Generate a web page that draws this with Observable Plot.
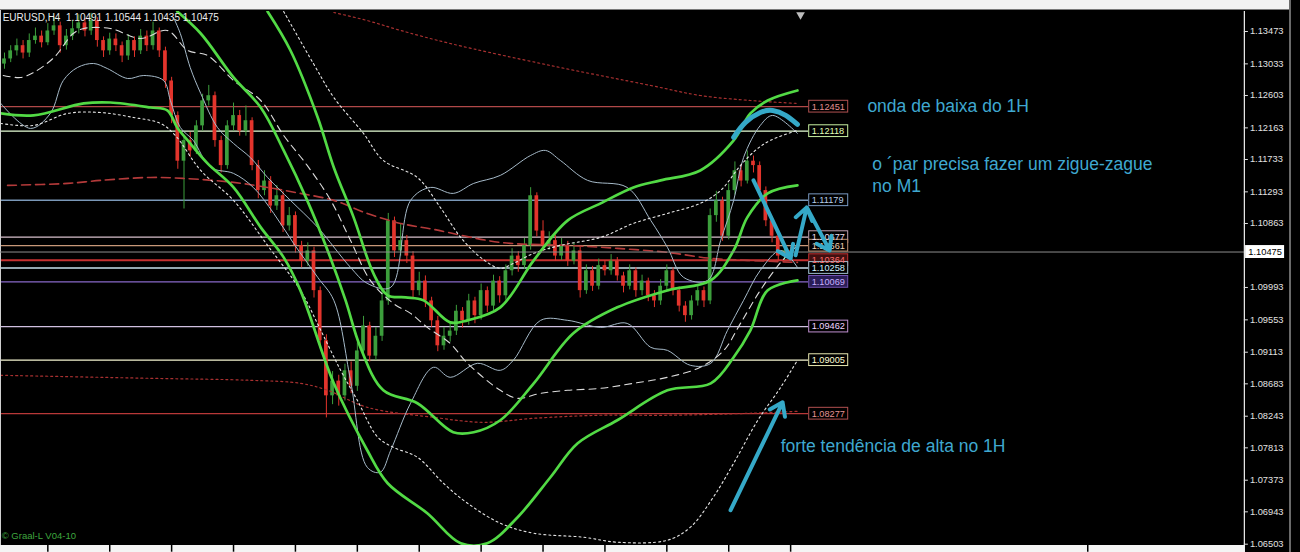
<!DOCTYPE html>
<html><head><meta charset="utf-8">
<script src="https://cdn.jsdelivr.net/npm/d3@7"></script>
<script src="https://cdn.jsdelivr.net/npm/@observablehq/plot@0.6"></script>
<style>
html,body{margin:0;padding:0;background:#000;}
#wrap{position:relative;width:1300px;height:552px;overflow:hidden;background:#000;}
.band{position:absolute;}
#wrap svg{position:absolute;left:0;top:0;}
</style></head><body>
<div id="wrap">
 <div class="band" style="left:0;top:0;width:1289px;height:9px;background:#f2f2f2"></div>
 <div class="band" style="left:0;top:9px;width:1289px;height:1px;background:#7a7a7a"></div>
 <div class="band" style="left:0;top:545px;width:1245px;height:7px;background:#f4f4f4"></div>
 <div class="band" style="left:0;top:10px;width:1px;height:535px;background:#cfcfcf"></div>
 <div class="band" style="left:1289px;top:0;width:2px;height:552px;background:#6a6a6a"></div>
</div>
<script>
// ---- candles (EURUSD H4) ----
const firstOpen = 1.1303;
const barClose = [1.1310,1.1321,1.1328,1.1318,1.1335,1.1341,1.1332,1.1348,1.1355,1.1328,
 1.1341,1.1351,1.1359,1.1348,1.1362,1.1335,1.1321,1.1337,1.1328,1.1314,
 1.1335,1.1321,1.1341,1.1328,1.1348,1.1321,1.1280,1.1233,1.1171,1.1199,
 1.1185,1.1219,1.1253,1.1260,1.1199,1.1165,1.1219,1.1233,1.1212,1.1226,
 1.1165,1.1131,1.1144,1.1110,1.1124,1.1083,1.1097,1.1056,1.1035,1.1049,
 1.0995,1.0927,1.0852,1.0872,1.0852,1.0886,1.0865,1.0913,1.0947,1.0906,
 1.0933,1.0981,1.1090,1.1049,1.1063,1.1042,1.0995,1.1008,1.0981,1.0954,
 1.0920,1.0933,1.0940,1.0967,1.0954,1.0981,1.0961,1.0995,1.0974,1.1008,
 1.0988,1.1022,1.1042,1.1029,1.1056,1.1124,1.1076,1.1056,1.1063,1.1042,
 1.1056,1.1035,1.1049,1.0995,1.1022,1.1001,1.1029,1.1022,1.1035,1.1015,
 1.1001,1.1022,1.0995,1.1008,1.0988,1.0981,1.1001,1.1022,1.0995,1.0974,
 1.0961,1.0981,1.0995,1.0981,1.1097,1.1117,1.1069,1.1131,1.1158,1.1144,
 1.1171,1.1165,1.1131,1.1090,1.1069,1.1042,1.10491,1.10475];
const barHigh = [1.1318,1.1328,1.1337,1.1335,1.1344,1.1352,1.1348,1.1358,1.1366,1.1360,
 1.1350,1.1362,1.1370,1.1365,1.1372,1.1366,1.1340,1.1345,1.1344,1.1333,
 1.1343,1.1340,1.1350,1.1348,1.1360,1.1352,1.1326,1.1285,1.1238,1.1205,
 1.1210,1.1226,1.1262,1.1274,1.1265,1.1205,1.1226,1.1250,1.1240,1.1246,
 1.1230,1.1172,1.1158,1.1150,1.1138,1.1130,1.1108,1.1102,1.1062,1.1060,
 1.1054,1.1000,1.0935,1.0885,1.0880,1.0895,1.0898,1.0924,1.0960,1.0952,
 1.0945,1.0995,1.1100,1.1095,1.1085,1.1070,1.1048,1.1020,1.1015,1.0986,
 1.0960,1.0945,1.0952,1.0975,1.0972,1.0990,1.0986,1.1004,1.1000,1.1016,
 1.1014,1.1030,1.1052,1.1048,1.1066,1.1135,1.1128,1.1090,1.1075,1.1070,
 1.1066,1.1062,1.1060,1.1054,1.1030,1.1028,1.1038,1.1036,1.1044,1.1040,
 1.1020,1.1030,1.1026,1.1016,1.1012,1.0995,1.1010,1.1030,1.1026,1.1000,
 1.0980,1.0988,1.1002,1.1000,1.1106,1.1130,1.1122,1.1140,1.1170,1.1166,
 1.1185,1.1178,1.1170,1.1136,1.1095,1.1074,1.1056,1.10544];
const barLow = [1.1296,1.1305,1.1314,1.1310,1.1312,1.1330,1.1325,1.1328,1.1342,1.1318,
 1.1322,1.1335,1.1344,1.1340,1.1342,1.1326,1.1312,1.1315,1.1320,1.1305,
 1.1308,1.1312,1.1316,1.1320,1.1322,1.1312,1.1270,1.1222,1.1160,1.1106,
 1.1176,1.1180,1.1212,1.1246,1.1190,1.1155,1.1160,1.1212,1.1205,1.1205,
 1.1158,1.1120,1.1124,1.1100,1.1104,1.1074,1.1076,1.1046,1.1026,1.1028,
 1.0985,1.0916,1.0822,1.0840,1.0838,1.0845,1.0855,1.0858,1.0905,1.0898,
 1.0900,1.0926,1.0975,1.1040,1.1042,1.1032,1.0985,1.0988,1.0972,1.0945,
 1.0912,1.0914,1.0925,1.0934,1.0944,1.0948,1.0950,1.0955,1.0965,1.0968,
 1.0978,1.0982,1.1015,1.1020,1.1024,1.1050,1.1068,1.1048,1.1050,1.1035,
 1.1036,1.1028,1.1030,1.0985,1.0990,1.0994,1.0996,1.1015,1.1016,1.1008,
 1.0992,1.0996,1.0986,1.0988,1.0980,1.0972,1.0975,1.0995,1.0988,1.0966,
 1.0952,1.0955,1.0974,1.0972,1.0976,1.1088,1.1062,1.1064,1.1125,1.1136,
 1.1140,1.1155,1.1124,1.1082,1.1060,1.1036,1.1036,1.10435];

// ---- indicator curves: [bar index, price] ----
const greenUpper = [[42.5,1.13745],[46.2,1.13215],[50.6,1.12305],[53.2,1.11625],[56.4,1.10946],[59.6,1.10185],[61.9,1.09886],[64.8,1.09859],[67.7,1.09818],[72,1.09519],[74.8,1.09546],[80.1,1.09723],[85.5,1.10362],[91,1.10905],[96.3,1.11136],[101.6,1.11353],[106,1.11449],[112.4,1.11584],[117.8,1.11992],[120.5,1.12359],[123.3,1.12535],[128.1,1.12671]];
const greenMiddle = [[27.9,1.13745],[31.7,1.13446],[37,1.12848],[41.4,1.12440],[45.1,1.11856],[48.9,1.11177],[52.2,1.10497],[55.1,1.09818],[57.5,1.09179],[61.2,1.08595],[66.7,1.08419],[72.5,1.08025],[75.8,1.08025],[80.1,1.08188],[85.5,1.08690],[91.9,1.09370],[99,1.09723],[107.1,1.09954],[114.1,1.10090],[117.8,1.10497],[120,1.10946],[123.3,1.11272],[128.1,1.11381]];
const greenLower = [[-0.6,1.12359],[4.7,1.12332],[12.8,1.12495],[17.1,1.12508],[23.6,1.12440],[26.3,1.12400],[27.9,1.12169],[29.6,1.11992],[32.8,1.11680],[37,1.11353],[41.4,1.10810],[45.1,1.10402],[47.8,1.09954],[53.2,1.08690],[58.6,1.07780],[61.9,1.07332],[68.3,1.06924],[73.7,1.06516],[78,1.06516],[82.9,1.06870],[88.2,1.07413],[92.6,1.07875],[99,1.08188],[107.1,1.08595],[114.1,1.08690],[117.8,1.09044],[120.5,1.09410],[123.3,1.09954],[128.1,1.10090]];
const thinUpper = [[27.3,1.13663],[28.4,1.13446],[30,1.12984],[31.7,1.12631],[34.4,1.12169],[37,1.11951],[39.7,1.11761],[42.5,1.11489],[46.2,1.11177],[50.6,1.10810],[55.9,1.10266],[58.6,1.10049],[62.4,1.09995],[65.6,1.11177],[68.8,1.11353],[72.5,1.11272],[75.8,1.11408],[80.1,1.11517],[85,1.11788],[87.4,1.11856],[89.8,1.11720],[94.2,1.11449],[100.6,1.11353],[104.4,1.10905],[107.1,1.10538],[109.7,1.10131],[113.6,1.10090],[115.7,1.10633],[117.8,1.11177],[119.4,1.11761],[122.1,1.12196],[124.1,1.12332],[128.1,1.12087]];
const thinLower = [[-0.6,1.12495],[4.2,1.12155],[7.4,1.12359],[9.5,1.12807],[11.8,1.12984],[14.4,1.13038],[16.6,1.12970],[19.9,1.12834],[22.5,1.12875],[25.7,1.12807],[26.8,1.12535],[28.4,1.12169],[30.5,1.11992],[33.3,1.11625],[37,1.11544],[40.2,1.11353],[43.5,1.11000],[46.7,1.10593],[50.6,1.10131],[53.2,1.09818],[55.9,1.08731],[58.6,1.07549],[60.7,1.07481],[62.4,1.07780],[65.6,1.08419],[69.3,1.08908],[72,1.08772],[76.4,1.08962],[80.1,1.08867],[82.2,1.09003],[86.6,1.09546],[91,1.09546],[96.3,1.09451],[100.6,1.09505],[104.4,1.09179],[107.1,1.09138],[110.8,1.08935],[114.1,1.08962],[116.8,1.09410],[119.4,1.09818],[122.1,1.10226],[125.4,1.10497],[128.1,1.10266]];
const dotUpper = [[45.1,1.13745],[49.9,1.13038],[53.2,1.12576],[58,1.12087],[61.2,1.11720],[66.7,1.11489],[70.4,1.11082],[73.7,1.10674],[76.9,1.10402],[80.1,1.10253],[82.2,1.10321],[85.5,1.10457],[89.8,1.10565],[96.3,1.10674],[101.6,1.10864],[107.1,1.11000],[112.4,1.11136],[115.7,1.11313],[118.9,1.11652],[121.3,1.11856],[123.7,1.11992],[128.1,1.12128]];
const dotLower = [[-0.6,1.12223],[4.7,1.12196],[10.2,1.12359],[15.5,1.12372],[20.8,1.12305],[25.2,1.12223],[27.6,1.12060],[31.7,1.11584],[37,1.11177],[42.5,1.10565],[47.8,1.09954],[51.1,1.09410],[54.3,1.08867],[57,1.08459],[60.3,1.07957],[62.8,1.07821],[66.7,1.07685],[70.9,1.07332],[74.8,1.07060],[80.1,1.06788],[85.5,1.06652],[93.5,1.06598],[99,1.06530],[107.1,1.06557],[110.8,1.06734],[114.5,1.07141],[117.8,1.07603],[121.7,1.08188],[125.4,1.08636],[128.1,1.09003]];
const dashMiddle = [[-0.2,1.12875],[2.6,1.12848],[4.7,1.12916],[8,1.13120],[11.1,1.13446],[12.8,1.13514],[17.1,1.13514],[22,1.13378],[26.3,1.13487],[29.6,1.13215],[32.8,1.13147],[37,1.12807],[41.4,1.12535],[45.1,1.12060],[48.9,1.11652],[52.7,1.11177],[55.9,1.10633],[59.1,1.10090],[62.8,1.09777],[65.6,1.09641],[68.3,1.09451],[72,1.09233],[74.8,1.08962],[80.1,1.08595],[82.9,1.08486],[86.6,1.08554],[91,1.08595],[96.3,1.08622],[101.6,1.08690],[107.1,1.08772],[112.4,1.08908],[116.2,1.09138],[118.9,1.09505],[122.1,1.09954],[125.4,1.10334],[128.1,1.10565]];
const redDashMA = [[0.5,1.11381],[10.2,1.11408],[15.5,1.11449],[23.6,1.11489],[28.9,1.11476],[37,1.11422],[42.5,1.11353],[47.8,1.11272],[53.2,1.11177],[58.6,1.11000],[64,1.10864],[69.3,1.10783],[80.1,1.10606],[91,1.10565],[99,1.10525],[107.1,1.10470],[114.1,1.10389],[120,1.10362],[128.1,1.10334]];
const redDotHigh = [[53.2,1.13731],[58.6,1.13622],[64,1.13487],[72,1.13310],[88.2,1.13011],[104.4,1.12739],[112.4,1.12603],[120.5,1.12535],[128.1,1.12495]];
const redDotLow = [[-0.6,1.08799],[23.6,1.08758],[39.7,1.08731],[47.8,1.08690],[52.2,1.08595],[58.6,1.08364],[69.3,1.08228],[77.4,1.08160],[85.5,1.08215],[96.3,1.08256],[107.1,1.08256],[120.5,1.08283],[128.1,1.08310]];

// ---- horizontal levels ----
const levelPrices = [1.12451,1.12118,1.11179,1.10677,1.10561,1.10364,1.10258,1.10069,1.09462,1.09005,1.08277];
const levelLabels = ["1.12451","1.12118","1.11179","1.10677","1.10561","1.10364","1.10258","1.10069","1.09462","1.09005","1.08277"];
const levelLineColors = ["#b04848","#e6ffd6","#7a98b8","#d8c0cc","#c89878","#c83030","#c8e0ec","#8868c8","#d0c0e0","#f4f4d0","#b83838"];
const levelTextColors = ["#e09090","#e0ffb8","#b4cce8","#ecdcec","#ecd2b4","#ff6a6a","#d4f0ff","#c8b0ff","#f0d6ff","#ffffd4","#e49494"];
const levelBoxColors = ["#b05050","#c8f0a0","#7898c0","#c0a0b0","#c09070","#c03030","#a0c0d0","#7050b0","#c090d0","#e8e8b0","#b05050"];
const levelBoxFill = ["#000","#000","#000","#000","#000","#401010","#000","#2a1d55","#000","#000","#000"];
const currentPrice = 1.10475;

// ---- right axis ----
const axisTicks = [1.13473,1.13033,1.12603,1.12163,1.11733,1.11293,1.10863,1.09993,1.09553,1.09113,1.08683,1.08243,1.07813,1.07373,1.06943,1.06503];
const axisTickLabels = ["1.13473","1.13033","1.12603","1.12163","1.11733","1.11293","1.10863","1.09993","1.09553","1.09113","1.08683","1.08243","1.07813","1.07373","1.06943","1.06503"];
const timeSeparatorBars = [7,17,27,37,47,57,67,77,87,97,107,117,127,175];

// ---- texts & annotations ----
const headerText = "EURUSD,H4  1.10491 1.10544 1.10435 1.10475";
const footerText = "© Graal-L V04-10";
const notes = [
  {x:139.4, y:1.12454, t:"onda de baixa do 1H"},
  {x:140.2, y:1.11666, t:"o ´par precisa fazer um zigue-zague"},
  {x:140.2, y:1.11367, t:"no M1"},
  {x:125.4, y:1.07834, t:"forte tendência de alta no 1H"}
];
const arcPath = [[117.8,1.12033],[119.7,1.12237],[122.1,1.12372],[124.1,1.12400],[126.2,1.12332],[128.1,1.12210]];
const arrowSegs = [
  {x1:121,y1:1.11449,x2:127,y2:1.10389},
  {x1:127.8,y1:1.10430,x2:129.6,y2:1.11082},
  {x1:129.7,y1:1.11068,x2:133.3,y2:1.10497},
  {x1:117.3,y1:1.06965,x2:125.7,y2:1.08432}
];

// ---- build ----
const candles = barClose.map((c,i)=>({i, o: i ? barClose[i-1] : firstOpen, c, h: barHigh[i], l: barLow[i]}));
const bull = "#3c9e3c", bear = "#e3342c";
const levels = levelPrices.map((p,k)=>({p, label: levelLabels[k], line: levelLineColors[k], text: levelTextColors[k], box: levelBoxColors[k], fill: levelBoxFill[k]}));
const FONT = "'Liberation Sans', Arial, sans-serif";
const NOTE = "#3fa8d0";
const bh = 0.0008; // half label-box height in price units

const curve = (pts, stroke, w, dash) => Plot.line(pts, {x: d=>d[0], y: d=>d[1], stroke, strokeWidth: w, strokeDasharray: dash, curve: "catmull-rom", clip: true});

const marks = [];
levels.forEach(l => marks.push(Plot.ruleY([l], {y: "p", x1: -1, x2: 129.9, stroke: l.line, strokeWidth: l.p === 1.10364 ? 2 : 1.3, clip: true})));
marks.push(
  Plot.ruleX(candles, {filter: d=>d.c>=d.o, x: "i", y1: "l", y2: "h", stroke: bull, strokeWidth: 1, clip: true}),
  Plot.ruleX(candles, {filter: d=>d.c<d.o, x: "i", y1: "l", y2: "h", stroke: bear, strokeWidth: 1, clip: true}),
  Plot.rect(candles, {filter: d=>d.c>=d.o, x1: d=>d.i-0.3, x2: d=>d.i+0.3, y1: "o", y2: "c", fill: bull, clip: true}),
  Plot.rect(candles, {filter: d=>d.c<d.o, x1: d=>d.i-0.3, x2: d=>d.i+0.3, y1: "o", y2: "c", fill: bear, clip: true}),
  curve(redDotHigh, "#a83030", 1.2, "2,3"),
  curve(redDotLow, "#a83030", 1.2, "2,3"),
  curve(redDashMA, "#b43a3a", 1.6, "9,5"),
  curve(thinUpper, "#a6bac9", 1),
  curve(thinLower, "#a6bac9", 1),
  curve(dotUpper, "#e6e6e6", 1.1, "2,3"),
  curve(dotLower, "#e6e6e6", 1.1, "2,3"),
  curve(dashMiddle, "#dcdcdc", 1.1, "7,5"),
  curve(greenUpper, "#52da45", 2.7),
  curve(greenMiddle, "#52da45", 2.7),
  curve(greenLower, "#52da45", 2.7),
  Plot.ruleY([currentPrice], {x1: -1, x2: 200.3, stroke: "#8e8e8e", strokeWidth: 1}),
  // level label boxes
  Plot.rect(levels, {x1: 130.0, x2: 136.3, y1: d=>d.p-bh, y2: d=>d.p+bh, fill: d=>d.fill, stroke: d=>d.box, strokeWidth: 1}),
  Plot.text(levels, {x: 130.4, y: "p", text: "label", fill: d=>d.text, fontSize: 9.2, fontFamily: FONT, textAnchor: "start"}),
  // annotations
  Plot.line(arcPath, {x: d=>d[0], y: d=>d[1], stroke: "#35a9c8", strokeWidth: 5, curve: "natural", strokeLinecap: "round"}),
  Plot.arrow(arrowSegs, {x1: "x1", y1: "y1", x2: "x2", y2: "y2", stroke: "#35a9c8", strokeWidth: 4, headLength: 5.5, headAngle: 70}),
  Plot.text(notes, {x: "x", y: "y", text: "t", fill: NOTE, fontSize: 17.5, fontFamily: FONT, textAnchor: "start"}),
  Plot.text([headerText], {x: -0.3, y: 1.13663, text: d=>d, fill: "#ececec", fontSize: 10, fontFamily: FONT, textAnchor: "start"}),
  Plot.text([footerText], {x: -0.45, y: 1.06612, text: d=>d, fill: "#3fa63f", fontSize: 9.5, fontFamily: FONT, textAnchor: "start"}),
  Plot.dot([128.6], {x: d=>d, y: 1.13700, symbol: "triangle", rotate: 180, r: 3.2, fill: "#bdbdbd", stroke: "none"}),
  // right axis
  Plot.ruleX([200.3], {y1: 1.06394, y2: 1.13745, stroke: "#f0f0f0", strokeWidth: 1.2}),
  Plot.ruleY(axisTicks, {x1: 200.3, x2: 200.95, stroke: "#e0e0e0"}),
  Plot.text(axisTicks, {x: 201.2, y: d=>d, text: (d,i)=>axisTickLabels[i], fill: "#e2e2e2", fontSize: 9.3, fontFamily: FONT, textAnchor: "start"}),
  Plot.rect([currentPrice], {x1: 200.5, x2: 206.8, y1: d=>d-0.00088, y2: d=>d+0.00088, fill: "#ffffff"}),
  Plot.text([currentPrice], {x: 203.65, y: d=>d, text: d=>d.toFixed(5), fill: "#000", fontSize: 9.3, fontFamily: FONT}),
  // time separators in the bottom strip
  Plot.ruleX(timeSeparatorBars, {x: d=>d, y1: 1.06489, y2: 1.06394, stroke: "#000", strokeWidth: 1.5})
);

const chart = Plot.plot({
  width: 1300, height: 552,
  marginLeft: 1, marginRight: 56, marginTop: 11, marginBottom: 7,
  x: {domain: [0, 200], range: [4, 1242], axis: null},
  y: {domain: [1.06503, 1.13473], range: [543.7, 31], axis: null},
  color: {type: "identity"},
  style: {background: "transparent", overflow: "visible"},
  marks
});
document.getElementById("wrap").appendChild(chart);
</script>
</body></html>
